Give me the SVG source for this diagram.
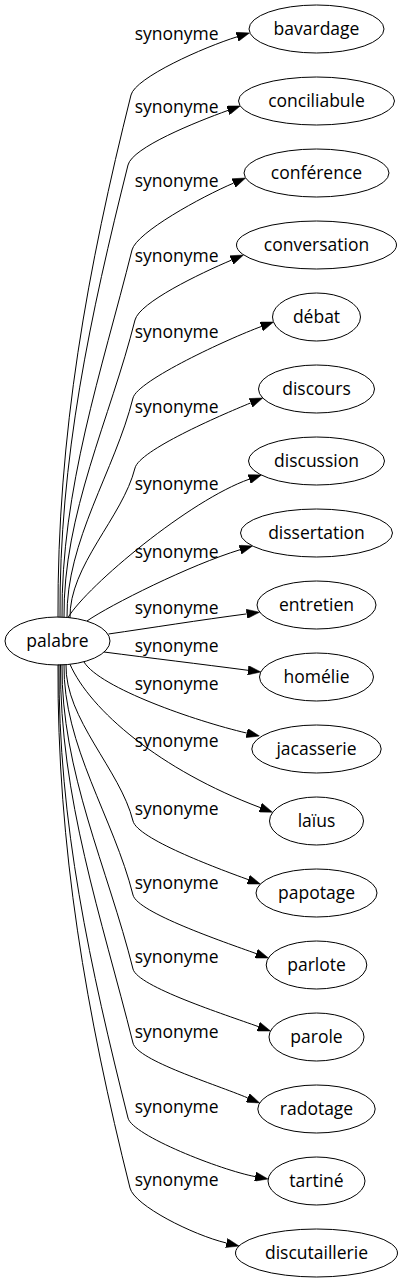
<svg xmlns="http://www.w3.org/2000/svg" width="403" height="1283" viewBox="0 0 403 1283">
<style>
.n ellipse{fill:none;stroke:#000;stroke-width:1}
.n text,.lbl text{font-family:"Open Sans","DejaVu Sans",sans-serif;font-size:17.5px;fill:#000}
.n text{text-anchor:middle}
.lbl text{text-anchor:middle}
#edges path{fill:none;stroke:#000;stroke-width:1;marker-end:url(#ah)}
</style>
<defs>
<marker id="ah" markerWidth="13" markerHeight="9.34" refX="0" refY="4.67" orient="auto" markerUnits="userSpaceOnUse" viewBox="0 0 13 9.34"><path d="M0,0 L13,4.67 L0,9.34 z" fill="#000" stroke="#000" stroke-width="0.5"/></marker>
</defs>
<rect width="403" height="1283" fill="#fff"/>
<g id="edges">
<path d="M58,617.5 C57,434.6 87.9,267.4 131,95 C135.4,77.5 203.7,47.2 237.1,36.8"/>
<path d="M60,617.5 C59,459.1 90.7,314.3 128,165 C132.4,147.5 195.1,122.3 228,110.4"/>
<path d="M62,617.5 C61,488.9 101.7,371.3 132,250 C136.4,232.5 201.4,196.8 233.6,183.1"/>
<path d="M64,617.6 C63,513.4 110.4,418.2 135,320 C139.4,302.5 199.3,273.8 231.5,260.1"/>
<path d="M67,617.7 C66,540.8 114.9,470.5 133,398 C137.4,380.5 228.5,338.6 261.3,326.5"/>
<path d="M70,618 C69,565.5 122.6,517.5 135,468 C139.4,450.5 218.3,416.2 250.7,402.9"/>
<path d="M68,617.5 C88,585 190,500 249.2,479.2"/>
<path d="M87,621 C110,605 190,565 240.1,549.7"/>
<path d="M108.5,634 C150,628 200,620 246.7,613.9"/>
<path d="M104,652 C150,658 200,664 248,670.3"/>
<path d="M84,662 C100,688 195,721 246.8,733.1"/>
<path d="M70,664.3 C90,710 160,770 260.3,807.6"/>
<path d="M66,664.5 C65,719.3 120.1,769.4 133,821 C137.4,838.5 215.3,867.7 248.2,879.6"/>
<path d="M64,664.5 C63,745.2 114,818.9 133,895 C137.4,912.5 223.3,941.7 256.2,953.6"/>
<path d="M62,664.5 C61,771.1 107.9,868.5 133,969 C137.4,986.5 225.4,1014.7 258.3,1026.6"/>
<path d="M60.5,664.5 C59.5,797 101.8,918.1 133,1043 C137.4,1060.5 215.5,1084.3 247.7,1097.9"/>
<path d="M59,664.5 C58,823.2 90.6,968.3 128,1118 C132.4,1135.5 220.8,1170.1 255.2,1176.6"/>
<path d="M58,664.5 C57,847.7 86.8,1015.2 130,1188 C134.4,1205.5 192.4,1234.8 226.4,1243"/>
</g>
<g class="lbl" id="labels">
<text x="176.7" y="40">synonyme</text>
<text x="176.7" y="113">synonyme</text>
<text x="176.7" y="187">synonyme</text>
<text x="176.7" y="262">synonyme</text>
<text x="176.7" y="338">synonyme</text>
<text x="176.7" y="413">synonyme</text>
<text x="176.7" y="490">synonyme</text>
<text x="176.7" y="558">synonyme</text>
<text x="176.7" y="614">synonyme</text>
<text x="176.7" y="652">synonyme</text>
<text x="176.7" y="690">synonyme</text>
<text x="176.7" y="747">synonyme</text>
<text x="176.7" y="815">synonyme</text>
<text x="176.7" y="889">synonyme</text>
<text x="176.7" y="963">synonyme</text>
<text x="176.7" y="1038">synonyme</text>
<text x="176.7" y="1113">synonyme</text>
<text x="176.7" y="1186">synonyme</text>
</g>
<g class="n" id="palabre"><ellipse cx="57.5" cy="641" rx="52.5" ry="24"/><text x="57.5" y="646.5">palabre</text></g>
<g class="n" id="bavardage"><ellipse cx="316.5" cy="29" rx="67.5" ry="24"/><text x="316.5" y="34.5">bavardage</text></g>
<g class="n" id="conciliabule"><ellipse cx="316.5" cy="101" rx="78" ry="24"/><text x="316.5" y="106.5">conciliabule</text></g>
<g class="n" id="conference"><ellipse cx="316.5" cy="173" rx="72.5" ry="24"/><text x="316.5" y="178.5">conférence</text></g>
<g class="n" id="conversation"><ellipse cx="316.5" cy="245" rx="80" ry="24"/><text x="316.5" y="250.5">conversation</text></g>
<g class="n" id="debat"><ellipse cx="316.5" cy="317" rx="44" ry="24"/><text x="316.5" y="322.5">débat</text></g>
<g class="n" id="discours"><ellipse cx="316.5" cy="389" rx="58" ry="24"/><text x="316.5" y="394.5">discours</text></g>
<g class="n" id="discussion"><ellipse cx="316.5" cy="461" rx="68" ry="24"/><text x="316.5" y="466.5">discussion</text></g>
<g class="n" id="dissertation"><ellipse cx="316.5" cy="533" rx="76" ry="24"/><text x="316.5" y="538.5">dissertation</text></g>
<g class="n" id="entretien"><ellipse cx="316.5" cy="605" rx="59.5" ry="24"/><text x="316.5" y="610.5">entretien</text></g>
<g class="n" id="homelie"><ellipse cx="316.5" cy="677" rx="57" ry="24"/><text x="316.5" y="682.5">homélie</text></g>
<g class="n" id="jacasserie"><ellipse cx="316.5" cy="749" rx="64.7" ry="24"/><text x="316.5" y="754.5">jacasserie</text></g>
<g class="n" id="laius"><ellipse cx="316.5" cy="821" rx="47" ry="24"/><text x="316.5" y="826.5">laïus</text></g>
<g class="n" id="papotage"><ellipse cx="316.5" cy="893" rx="60.5" ry="24"/><text x="316.5" y="898.5">papotage</text></g>
<g class="n" id="parlote"><ellipse cx="316.5" cy="965" rx="50.3" ry="24"/><text x="316.5" y="970.5">parlote</text></g>
<g class="n" id="parole"><ellipse cx="316.5" cy="1037" rx="47.5" ry="24"/><text x="316.5" y="1042.5">parole</text></g>
<g class="n" id="radotage"><ellipse cx="316.5" cy="1109" rx="58.7" ry="24"/><text x="316.5" y="1114.5">radotage</text></g>
<g class="n" id="tartine"><ellipse cx="316.5" cy="1181" rx="48.5" ry="24"/><text x="316.5" y="1186.5">tartiné</text></g>
<g class="n" id="discutaillerie"><ellipse cx="316.5" cy="1253" rx="81" ry="24"/><text x="316.5" y="1258.5">discutaillerie</text></g>
</svg>
